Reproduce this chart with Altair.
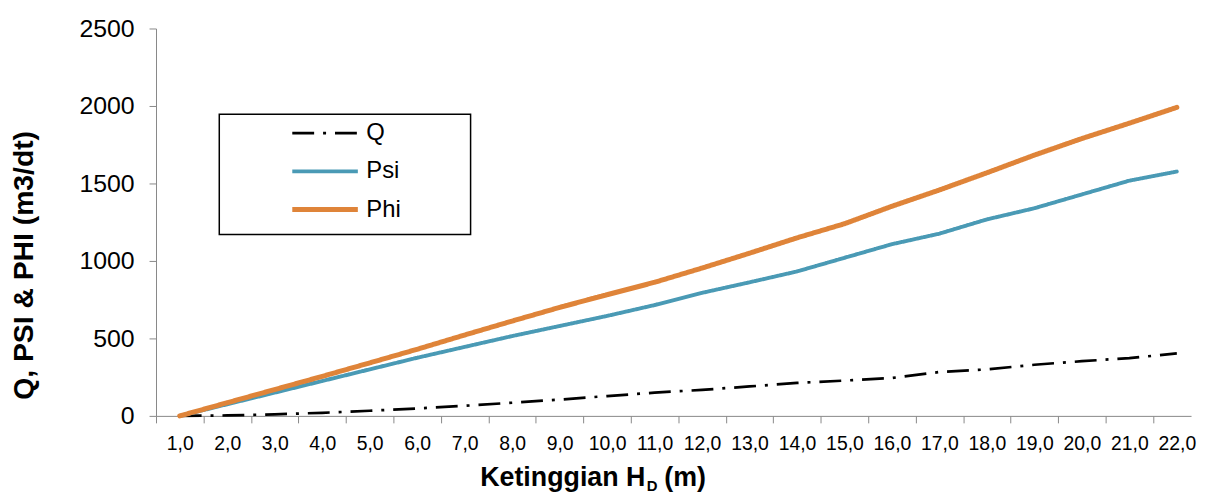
import altair as alt
import pandas as pd

# ---- data ----
h_values = [1.0, 2.0, 3.0, 4.0, 5.0, 6.0, 7.0, 8.0, 9.0, 10.0, 11.0,
            12.0, 13.0, 14.0, 15.0, 16.0, 17.0, 18.0, 19.0, 20.0, 21.0, 22.0]
q_values = [0, 3, 10, 20, 33, 48, 65, 85, 105, 128, 150,
            168, 190, 213, 228, 245, 283, 300, 330, 353, 373, 403]
psi_values = [0, 75, 150, 225, 300, 375, 445, 515, 580, 645, 715,
              794, 862, 932, 1020, 1108, 1176, 1268, 1340, 1429, 1518, 1577]
phi_values = [0, 85, 170, 255, 342, 430, 522, 612, 700, 782, 862,
              954, 1050, 1149, 1240, 1353, 1458, 1569, 1683, 1790, 1889, 1991]
series_names = ["Q", "Psi", "Phi"]
series_colors = ["#000000", "#4A9AB5", "#DF8439"]
series_dash = [[22, 9, 3, 9], [1, 0], [1, 0]]
series_width = [2.7, 5, 5]
y_ticks = [0, 500, 1000, 1500, 2000, 2500]
x_title_main = "Ketinggian H"
x_title_sub = "D"
x_title_end = "(m)"
y_title = "Q, PSI & PHI (m3/dt)"

rows = []
for name, vals in zip(series_names, [q_values, psi_values, phi_values]):
    for h, v in zip(h_values, vals):
        rows.append({"H": h, "value": v, "series": name})
df = pd.DataFrame(rows)

band = 47.8
plot_w = 1042
plot_h = 390

x_enc = alt.X(
    "H:Q",
    scale=alt.Scale(domain=[0.5, 0.5 + plot_w / band], nice=False, zero=False),
    axis=alt.Axis(
        values=h_values,
        labelExpr="replace(format(datum.value, '.1f'), '.', ',')",
        title=None,
        grid=False,
        tickOffset=-band / 2,
        labelOffset=band / 2,
        tickSize=7,
        tickColor="#888888",
        domainColor="#888888",
        labelFont="Liberation Sans",
        labelFontSize=19.5,
        labelColor="#000000",
        labelPadding=12,
        labelOverlap=False,
        labelFlush=False,
    ),
)
y_enc = alt.Y(
    "value:Q",
    scale=alt.Scale(domain=[0, 2500], nice=False),
    axis=alt.Axis(
        values=y_ticks,
        format="d",
        grid=False,
        title=y_title,
        titleFont="Liberation Sans",
        titleFontSize=28.5,
        titleFontWeight="bold",
        titleColor="#000000",
        titleAngle=270,
        titleAlign="center",
        titleBaseline="alphabetic",
        titleX=-124,
        titleY=238,
        tickSize=7,
        tickColor="#888888",
        domainColor="#888888",
        labelFont="Liberation Sans",
        labelFontSize=25,
        labelColor="#000000",
        labelPadding=15,
    ),
)

color_enc = alt.Color(
    "series:N",
    scale=alt.Scale(domain=series_names, range=series_colors),
    sort=series_names,
    legend=alt.Legend(
        title=None,
        orient="none",
        legendX=156.7,
        legendY=92.8,
        padding=0,
        symbolType="M-3,0H3",
        symbolSize=484,
        labelOffset=28,
        rowPadding=13,
        labelFont="Liberation Sans",
        labelFontSize=24,
        labelColor="#000000",
    ),
)
dash_enc = alt.StrokeDash(
    "series:N",
    scale=alt.Scale(domain=series_names, range=series_dash),
    sort=series_names,
    legend=alt.Legend(title=None, orient="none", legendX=156.7, legendY=92.8),
)
width_enc = alt.StrokeWidth(
    "series:N",
    scale=alt.Scale(domain=series_names, range=series_width),
    sort=series_names,
    legend=alt.Legend(title=None, orient="none", legendX=156.7, legendY=92.8),
)

base = alt.Chart(df).encode(x=x_enc, y=y_enc, color=color_enc,
                            strokeDash=dash_enc, strokeWidth=width_enc,
                            order=alt.value(0))

q_line = base.transform_filter(alt.datum.series == "Q").mark_line(strokeCap="butt")
p_lines = base.transform_filter(alt.datum.series != "Q").mark_line(strokeCap="round")

legend_box = alt.Chart(pd.DataFrame({"series": ["box"]})).mark_rect(
    fill=None, fillOpacity=0, stroke="#000000", strokeWidth=1.5
).encode(x=alt.value(63.7), x2=alt.value(316.7), y=alt.value(86.3), y2=alt.value(207.3))

t_main = alt.Chart(pd.DataFrame({"t": [x_title_main]})).mark_text(
    font="Liberation Sans", fontSize=27, fontWeight="bold", align="right",
    baseline="alphabetic", color="#000000"
).encode(text="t:N", x=alt.value(492.7), y=alt.value(460.3))
t_sub = alt.Chart(pd.DataFrame({"t": [x_title_sub]})).mark_text(
    font="Liberation Sans", fontSize=15, fontWeight="bold", align="left",
    baseline="alphabetic", color="#000000"
).encode(text="t:N", x=alt.value(494.0), y=alt.value(465.3))
t_end = alt.Chart(pd.DataFrame({"t": [x_title_end]})).mark_text(
    font="Liberation Sans", fontSize=27, fontWeight="bold", align="left",
    baseline="alphabetic", color="#000000"
).encode(text="t:N", x=alt.value(511.7), y=alt.value(460.3))

chart = alt.layer(legend_box, q_line, p_lines, t_main, t_sub, t_end).properties(
    width=plot_w,
    height=plot_h,
    autosize=alt.AutoSizeParams(type="none"),
    padding={"left": 149, "top": 19, "right": 6, "bottom": 78},
    background="#ffffff",
).configure_view(stroke=None)

chart.save("out.html", embed_options={"renderer": "svg", "actions": False})
